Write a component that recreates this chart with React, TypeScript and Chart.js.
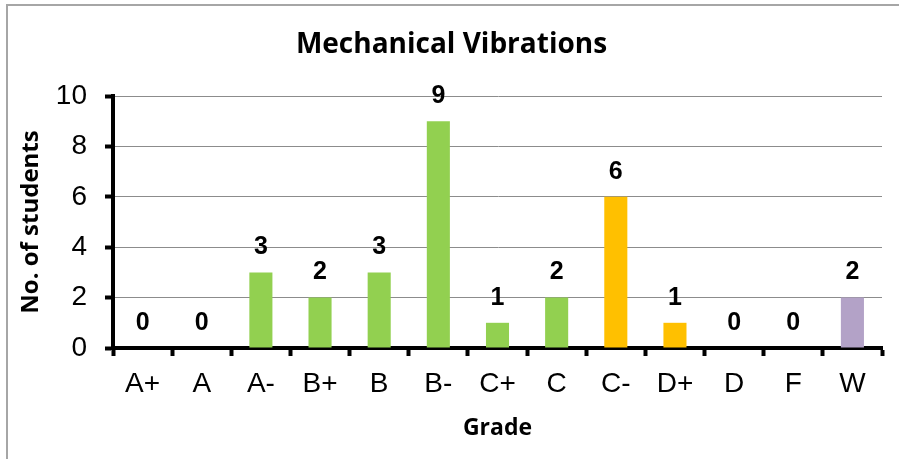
import React, { useEffect, useRef } from "react";
import { Chart, registerables } from "chart.js";

Chart.register(...registerables);

const chartTitle = "Mechanical Vibrations";
const xTitle = "Grade";
const yTitle = "No. of students";
const categories = ["A+", "A", "A-", "B+", "B", "B-", "C+", "C", "C-", "D+", "D", "F", "W"];
const counts = [0, 0, 3, 2, 3, 9, 1, 2, 6, 1, 0, 0, 2];
const barColors = [
  "#92D050", "#92D050", "#92D050", "#92D050", "#92D050", "#92D050", "#92D050",
  "#92D050", "#FFC000", "#FFC000", "#FFC000", "#FFC000", "#B3A2C7",
];
const yMin = 0;
const yMax = 10;
const yStep = 2;

const frameAndTitle = {
  id: "frameAndTitle",
  beforeDraw(chart: any) {
    const ctx = chart.ctx;
    ctx.save();
    ctx.fillStyle = "#ffffff";
    ctx.fillRect(0, 0, chart.width, chart.height);
    ctx.strokeStyle = "#a6a6a6";
    ctx.lineWidth = 2;
    ctx.strokeRect(7, 5, chart.width + 20, chart.height + 20);
    ctx.restore();
  },
  afterDraw(chart: any) {
    const ctx = chart.ctx;
    ctx.save();
    ctx.fillStyle = "#000000";
    ctx.font = 'bold 28px "Open Sans"';
    ctx.textAlign = "center";
    ctx.textBaseline = "alphabetic";
    ctx.fillText(chartTitle, chart.width / 2 + 2, 53);
    ctx.restore();
  },
};

const dataLabels = {
  id: "dataLabels",
  afterDatasetsDraw(chart: any) {
    const ctx = chart.ctx;
    const meta = chart.getDatasetMeta(0);
    const values = chart.data.datasets[0].data;
    ctx.save();
    ctx.fillStyle = "#000000";
    ctx.font = 'bold 25px "Liberation Sans"';
    ctx.textAlign = "center";
    ctx.textBaseline = "middle";
    meta.data.forEach((el: any, i: number) => {
      ctx.fillText(String(values[i]), el.x, el.y - 25);
    });
    ctx.restore();
  },
};

export default function App() {
  const ref = useRef<HTMLCanvasElement | null>(null);
  useEffect(() => {
    if (!ref.current) return;
    const chart = new Chart(ref.current, {
      type: "bar",
      data: {
        labels: categories,
        datasets: [
          {
            data: counts,
            backgroundColor: barColors,
            borderWidth: 0,
            barPercentage: 0.39,
            categoryPercentage: 1,
          },
        ],
      },
      options: {
        animation: false,
        responsive: false,
        maintainAspectRatio: false,
        devicePixelRatio: 1,
        layout: { padding: { left: 7, top: 96, right: 17, bottom: 0 } },
        plugins: {
          legend: { display: false },
          tooltip: { enabled: false },
          title: { display: false },
        },
        scales: {
          x: {
            afterFit(scale: any) {
              scale.height = 111;
            },
            grid: {
              display: true,
              drawOnChartArea: false,
              offset: true,
              drawTicks: true,
              tickLength: 8,
              tickWidth: 4,
              tickColor: "#000000",
            },
            border: { display: true, color: "#000000", width: 4 },
            ticks: {
              color: "#000000",
              font: { family: '"Liberation Sans"', size: 28 },
              padding: 11,
              autoSkip: false,
              maxRotation: 0,
            },
            title: {
              display: true,
              text: xTitle,
              color: "#000000",
              font: { family: '"Open Sans"', size: 23, weight: "bold" },
              padding: { top: 0, bottom: 17 },
            },
          },
          y: {
            min: yMin,
            max: yMax,
            afterFit(scale: any) {
              scale.width = 106;
            },
            grid: {
              color: "#8c8c8c",
              lineWidth: 1,
              drawTicks: true,
              tickLength: 8,
              tickWidth: 4,
              tickColor: "#000000",
            },
            border: { display: true, color: "#000000", width: 4 },
            ticks: {
              stepSize: yStep,
              color: "#000000",
              font: { family: '"Liberation Sans"', size: 28 },
              padding: 18,
            },
            title: {
              display: true,
              text: yTitle,
              color: "#000000",
              font: { family: '"Open Sans"', size: 24, weight: "bold" },
              padding: { top: 10, bottom: 0 },
            },
          },
        },
      },
      plugins: [frameAndTitle, dataLabels],
    });
    return () => chart.destroy();
  }, []);
  return (
    <div style={{ position: "absolute", left: 0, top: 0, width: 899, height: 459 }}>
      <canvas ref={ref} width={899} height={459} style={{ width: 899, height: 459, display: "block" }} />
    </div>
  );
}
